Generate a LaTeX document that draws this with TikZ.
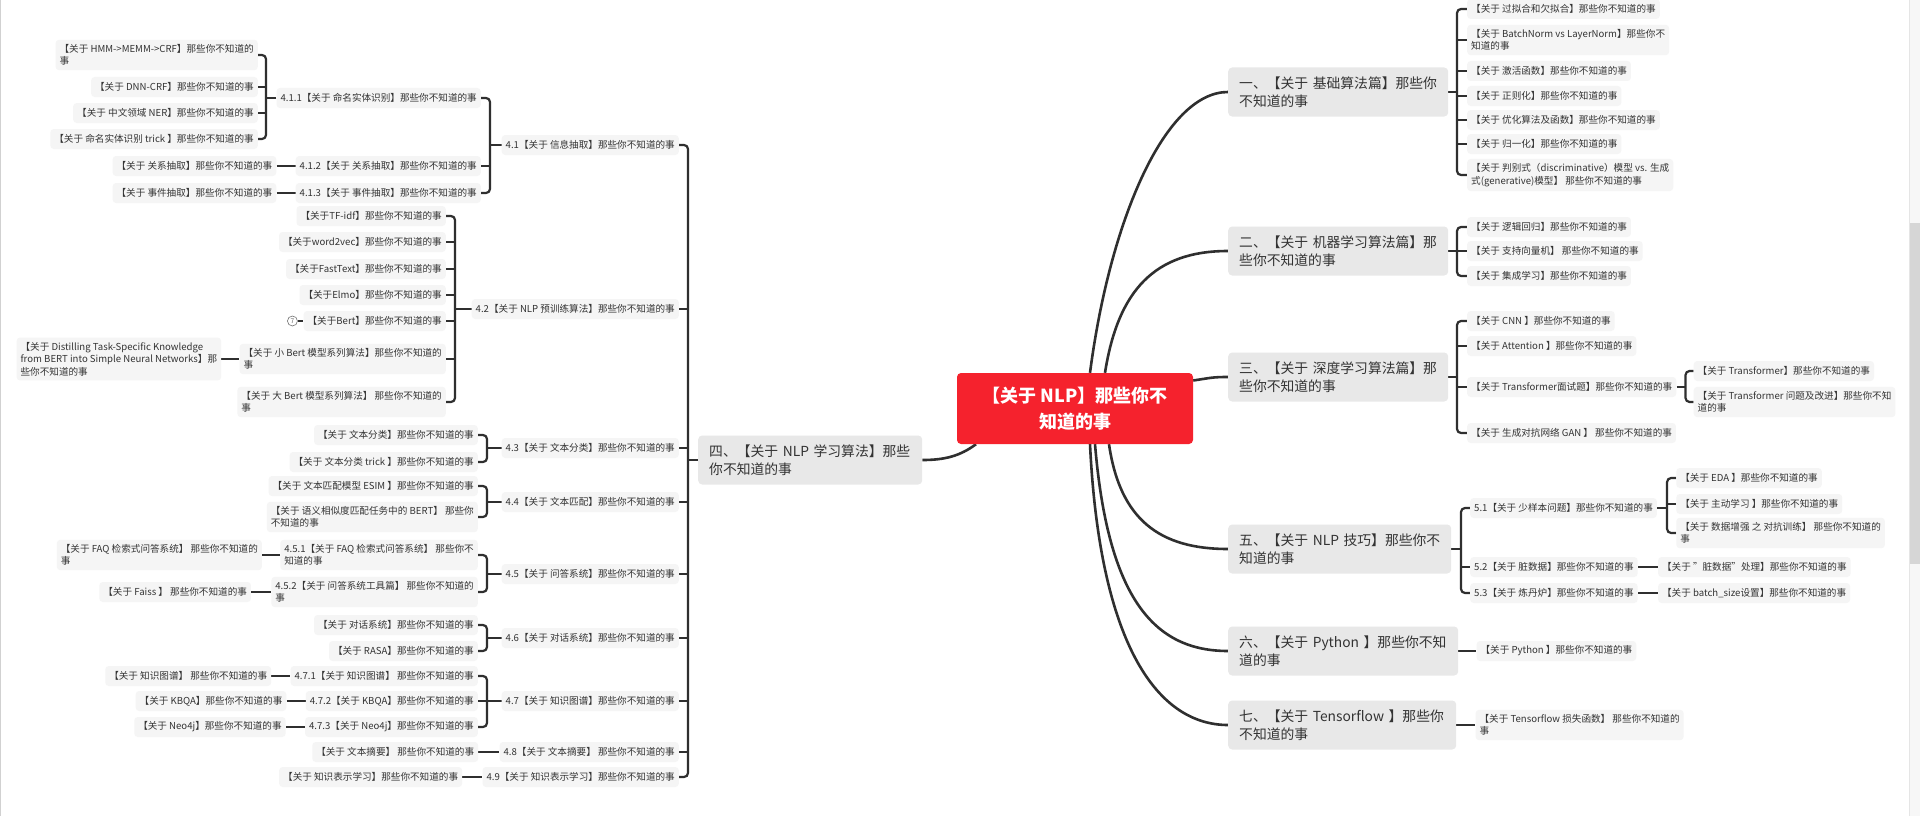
\documentclass[tikz,border=0pt]{standalone}
\usepackage{fontspec}
\setmainfont{Noto Sans CJK SC}
\usetikzlibrary{calc}
\definecolor{rootred}{HTML}{F5222D}
\definecolor{maingray}{HTML}{E8E8E8}
\definecolor{subgray}{HTML}{F5F5F5}
\definecolor{txt}{HTML}{333333}
\definecolor{ln}{HTML}{2F2F2F}
\pgfdeclarelayer{bg}
\pgfdeclarelayer{canvas}
\pgfsetlayers{canvas,bg,main}
\begin{document}
\begin{tikzpicture}[x=1pt,y=-1pt,
 subbox/.style={fill=subgray, rounded corners=3.5pt, text=txt, font=\fontsize{9.6}{12.5}\selectfont, inner xsep=4pt, inner ysep=4.5pt, minimum height=20pt, align=left},
 mainbox/.style={fill=maingray, rounded corners=4pt, text=txt, font=\fontsize{13.8}{18}\selectfont, inner xsep=11pt, inner ysep=6pt, minimum height=49pt, align=left, anchor=west},
 rootbox/.style={fill=rootred, rounded corners=4pt, text=white, font=\bfseries\fontsize{18}{26}\selectfont, align=center, minimum width=236pt, minimum height=71pt, inner sep=4pt},
 br/.style={draw=ln, line width=2.2pt, rounded corners=4pt},
 cv/.style={draw=ln, line width=2.6pt},
 lsub/.style={subbox, anchor=east},
 rsub/.style={subbox, anchor=west}
]
\useasboundingbox (0,0) rectangle (1920,816);
\begin{pgfonlayer}{canvas}
\fill[white] (0,0) rectangle (1920,816);
\draw[black!18, line width=1pt] (0.5,0) -- (0.5,816);
% scrollbar
\fill[black!3] (1909,0) rectangle (1920,816);
\draw[black!10, line width=0.8pt] (1909,0) -- (1909,816);
\fill[black!16] (1909.5,223) rectangle (1920,564);
\end{pgfonlayer}

% root
\node[rootbox] (root) at (1075,408.5) {【关于 NLP】那些你不\\知道的事};

% ---------------- left side ----------------
\node[mainbox, text width=202pt] (n4) at (698,460) {\mbox{四、【关于 NLP 学习算法】那些}\\你不知道的事};

\node[lsub] (c41) at (679,145) {4.1【关于 信息抽取】那些你不知道的事};
\node[lsub] (c42) at (679,309) {4.2【关于 NLP 预训练算法】那些你不知道的事};
\node[lsub] (c43) at (679,448) {4.3【关于 文本分类】那些你不知道的事};
\node[lsub] (c44) at (679,502) {4.4【关于 文本匹配】那些你不知道的事};
\node[lsub] (c45) at (679,574) {4.5【关于 问答系统】那些你不知道的事};
\node[lsub] (c46) at (679,638) {4.6【关于 对话系统】那些你不知道的事};
\node[lsub] (c47) at (679,701) {4.7【关于 知识图谱】那些你不知道的事};
\node[lsub] (c48) at (679,752) {4.8【关于 文本摘要】 那些你不知道的事};
\node[lsub] (c49) at (679,777) {4.9【关于 知识表示学习】那些你不知道的事};

\node[lsub] (c411) at (481,98) {4.1.1【关于 命名实体识别】那些你不知道的事};
\node[lsub] (c412) at (481,166) {4.1.2【关于 关系抽取】那些你不知道的事};
\node[lsub] (c413) at (481,193) {4.1.3【关于 事件抽取】那些你不知道的事};

\node[lsub] (d1) at (258,55) {【关于 HMM->MEMM->CRF】那些你不知道的\\事};
\node[lsub] (d2) at (258,87) {【关于 DNN-CRF】那些你不知道的事};
\node[lsub] (d3) at (258,113) {【关于 中文领域 NER】那些你不知道的事};
\node[lsub] (d4) at (258,139) {【关于 命名实体识别 trick 】那些你不知道的事};

\node[lsub] (e412) at ([xshift=-19pt]c412.west) {【关于 关系抽取】那些你不知道的事};
\node[lsub] (e413) at ([xshift=-19pt]c413.west) {【关于 事件抽取】那些你不知道的事};

\node[lsub] (f1) at (446,216) {【关于TF-idf】那些你不知道的事};
\node[lsub] (f2) at (446,242) {【关于word2vec】那些你不知道的事};
\node[lsub] (f3) at (446,269) {【关于FastText】那些你不知道的事};
\node[lsub] (f4) at (446,295) {【关于Elmo】那些你不知道的事};
\node[lsub] (f5) at (446,321) {【关于Bert】那些你不知道的事};
\node[lsub] (f6) at (446,359) {【关于 小 Bert 模型系列算法】那些你不知道的\\事};
\node[lsub] (f7) at (446,402) {【关于 大 Bert 模型系列算法】 那些你不知道的\\事};
\node[lsub] (g6) at ([xshift=-18pt]f6.west) {【关于 Distilling Task-Specific Knowledge\\from BERT into Simple Neural Networks】那\\些你不知道的事};
\node[circle, draw=black!55, line width=0.6pt, inner sep=0pt, minimum size=10pt, font=\fontsize{6.5}{7}\selectfont, text=black!60] (bc) at ([xshift=-11pt]f5.west) {7};

\node[lsub] (h1) at (478,435) {【关于 文本分类】那些你不知道的事};
\node[lsub] (h2) at (478,462) {【关于 文本分类 trick 】那些你不知道的事};
\node[lsub] (i1) at (478,486) {【关于 文本匹配模型 ESIM 】那些你不知道的事};
\node[lsub] (i2) at (478,517) {【关于 语义相似度匹配任务中的 BERT】 那些你\\不知道的事};
\node[lsub] (j1) at (478,555) {4.5.1【关于 FAQ 检索式问答系统】 那些你不\\知道的事};
\node[lsub] (j2) at (478,592) {4.5.2【关于 问答系统工具篇】 那些你不知道的\\事};
\node[lsub] (k1) at ([xshift=-18pt]j1.west) {【关于 FAQ 检索式问答系统】 那些你不知道的\\事};
\node[lsub] (k2) at ([xshift=-20pt]j2.west) {【关于 Faiss 】 那些你不知道的事};
\node[lsub] (l1) at (478,625) {【关于 对话系统】那些你不知道的事};
\node[lsub] (l2) at (478,651) {【关于 RASA】那些你不知道的事};
\node[lsub] (m1) at (478,676) {4.7.1【关于 知识图谱】 那些你不知道的事};
\node[lsub] (m2) at (478,701) {4.7.2【关于 KBQA】那些你不知道的事};
\node[lsub] (m3) at (478,727) {4.7.3【关于 Neo4j】那些你不知道的事};
\node[lsub] (o1) at ([xshift=-19pt]m1.west) {【关于 知识图谱】 那些你不知道的事};
\node[lsub] (o2) at ([xshift=-19pt]m2.west) {【关于 KBQA】那些你不知道的事};
\node[lsub] (o3) at ([xshift=-19pt]m3.west) {【关于 Neo4j】那些你不知道的事};
\node[lsub] (p8) at ([xshift=-21pt]c48.west) {【关于 文本摘要】 那些你不知道的事};
\node[lsub] (p9) at ([xshift=-20pt]c49.west) {【关于 知识表示学习】那些你不知道的事};

% ---------------- right side ----------------
\node[mainbox, text width=198pt] (r1) at (1228,92) {\mbox{一、【关于 基础算法篇】那些你}\\不知道的事};
\node[rsub] (s11) at (1467,9) {【关于 过拟合和欠拟合】那些你不知道的事};
\node[rsub] (s12) at (1467,40) {【关于 BatchNorm vs LayerNorm】那些你不\\知道的事};
\node[rsub] (s13) at (1467,71) {【关于 激活函数】那些你不知道的事};
\node[rsub] (s14) at (1467,96) {【关于 正则化】那些你不知道的事};
\node[rsub] (s15) at (1467,120) {【关于 优化算法及函数】那些你不知道的事};
\node[rsub] (s16) at (1467,144) {【关于 归一化】那些你不知道的事};
\node[rsub] (s17) at (1467,175) {【关于 判别式（discriminative）模型 vs. 生成\\式(generative)模型】 那些你不知道的事};

\node[mainbox, text width=198pt] (r2) at (1228,251) {\mbox{二、【关于 机器学习算法篇】那}\\些你不知道的事};
\node[rsub] (s21) at (1467,227) {【关于 逻辑回归】那些你不知道的事};
\node[rsub] (s22) at (1467,251) {【关于 支持向量机】 那些你不知道的事};
\node[rsub] (s23) at (1467,276) {【关于 集成学习】那些你不知道的事};

\node[mainbox, text width=198pt] (r3) at (1228,377) {\mbox{三、【关于 深度学习算法篇】那}\\些你不知道的事};
\node[rsub] (s31) at (1467,321) {【关于 CNN 】那些你不知道的事};
\node[rsub] (s32) at (1467,346) {【关于 Attention 】那些你不知道的事};
\node[rsub] (s33) at (1467,387) {【关于 Transformer面试题】那些你不知道的事};
\node[rsub] (s34) at (1467,433) {【关于 生成对抗网络 GAN 】 那些你不知道的事};
\node[rsub] (t1) at ($(s33.east)+(17,-16)$) {【关于 Transformer】那些你不知道的事};
\node[rsub] (t2) at ($(s33.east)+(17,15)$) {【关于 Transformer 问题及改进】那些你不知\\道的事};

\node[mainbox, text width=201pt] (r5) at (1228,549) {\mbox{五、【关于 NLP 技巧】那些你不}\\知道的事};
\node[rsub] (u1) at (1470,508) {5.1【关于 少样本问题】那些你不知道的事};
\node[rsub] (u2) at (1470,567) {5.2【关于 脏数据】那些你不知道的事};
\node[rsub] (u3) at (1470,593) {5.3【关于 炼丹炉】那些你不知道的事};
\node[rsub] (v1) at ($(u1.east)+(19,-30)$) {【关于 EDA 】那些你不知道的事};
\node[rsub] (v2) at ($(u1.east)+(19,-4)$) {【关于 主动学习 】那些你不知道的事};
\node[rsub] (v3) at ($(u1.east)+(19,25)$) {【关于 数据增强 之 对抗训练】 那些你不知道的\\事};
\node[rsub] (w2) at ([xshift=20pt]u2.east) {【关于 "脏数据"处理】那些你不知道的事};
\node[rsub] (w3) at ([xshift=20pt]u3.east) {【关于 batch\_size设置】那些你不知道的事};

\node[mainbox, text width=208pt] (r6) at (1228,651) {\mbox{六、【关于 Python 】那些你不知}\\道的事};
\node[rsub] (x6) at ([xshift=18pt]r6.east) {【关于 Python 】那些你不知道的事};
\node[mainbox, text width=206pt] (r7) at (1228,725) {\mbox{七、【关于 Tensorflow 】那些你}\\不知道的事};
\node[rsub] (x7) at ([xshift=19pt]r7.east) {【关于 Tensorflow 损失函数】 那些你不知道的\\事};

% ---------------- connectors ----------------
\begin{pgfonlayer}{bg}
% root curves
\draw[cv] ([xshift=15pt]root.north) .. controls (1110,220) and (1165,92) .. (r1.west);
\draw[cv] ([xshift=30pt]root.north) .. controls (1118,290) and (1155,251) .. (r2.west);
\draw[cv] ([yshift=28pt]root.east) .. controls (1210,378) and (1212,377) .. (r3.west);
\draw[cv] ([xshift=34pt]root.south) .. controls (1120,520) and (1160,549) .. (r5.west);
\draw[cv] ([xshift=20pt]root.south) .. controls (1108,600) and (1155,651) .. (r6.west);
\draw[cv] ([xshift=15pt]root.south) .. controls (1100,650) and (1160,725) .. (r7.west);
\draw[cv] ([xshift=-99pt]root.south) .. controls (960,456) and (945,460) .. (n4.east);

% left brackets
\coordinate (b4) at (688,0);
\draw[br] (c41.east) -- (c41.east -| b4) -- (c49.east -| b4) -- (c49.east);
\foreach \n in {c42,c43,c44,c45,c46,c47,c48} \draw[br] (\n.east) -- (\n.east -| b4);
\draw[br] (n4.west) -- (n4.west -| b4);

\coordinate (b41) at (490,0);
\draw[br] (c411.east) -- (c411.east -| b41) -- (c413.east -| b41) -- (c413.east);
\draw[br] (c412.east) -- (c412.east -| b41);
\draw[br] (c41.west) -- (c41.west -| b41);

\coordinate (b411) at (266,0);
\draw[br] (d1.east) -- (d1.east -| b411) -- (d4.east -| b411) -- (d4.east);
\foreach \n in {d2,d3} \draw[br] (\n.east) -- (\n.east -| b411);
\draw[br] (c411.west) -- (c411.west -| b411);

\coordinate (b42) at (455,0);
\draw[br] (f1.east) -- (f1.east -| b42) -- (f7.east -| b42) -- (f7.east);
\foreach \n in {f2,f3,f4,f5,f6} \draw[br] (\n.east) -- (\n.east -| b42);
\draw[br] (c42.west) -- (c42.west -| b42);

\coordinate (b43) at (487,0);
\draw[br] (h1.east) -- (h1.east -| b43) -- (h2.east -| b43) -- (h2.east);
\draw[br] (c43.west) -- (c43.west -| b43);
\draw[br] (i1.east) -- (i1.east -| b43) -- (i2.east -| b43) -- (i2.east);
\draw[br] (c44.west) -- (c44.west -| b43);
\draw[br] (j1.east) -- (j1.east -| b43) -- (j2.east -| b43) -- (j2.east);
\draw[br] (c45.west) -- (c45.west -| b43);
\draw[br] (l1.east) -- (l1.east -| b43) -- (l2.east -| b43) -- (l2.east);
\draw[br] (c46.west) -- (c46.west -| b43);
\draw[br] (m1.east) -- (m1.east -| b43) -- (m3.east -| b43) -- (m3.east);
\draw[br] (m2.east) -- (m2.east -| b43);
\draw[br] (c47.west) -- (c47.west -| b43);

% left single links
\draw[br] (e412.east) -- (c412.west);
\draw[br] (e413.east) -- (c413.west);
\draw[br] (g6.east) -- (f6.west);
\draw[br] (k1.east) -- (j1.west);
\draw[br] (k2.east) -- (j2.west);
\draw[br] (o1.east) -- (m1.west);
\draw[br] (o2.east) -- (m2.west);
\draw[br] (o3.east) -- (m3.west);
\draw[br] (p8.east) -- (c48.west);
\draw[br] (p9.east) -- (c49.west);
\draw[draw=ln, line width=1.2pt] (bc.east) -- (f5.west);

% right brackets
\coordinate (b1) at (1457,0);
\draw[br] (s11.west) -- (s11.west -| b1) -- (s17.west -| b1) -- (s17.west);
\foreach \n in {s12,s13,s14,s15,s16} \draw[br] (\n.west) -- (\n.west -| b1);
\draw[br] (r1.east) -- (r1.east -| b1);

\draw[br] (s21.west) -- (s21.west -| b1) -- (s23.west -| b1) -- (s23.west);
\draw[br] (s22.west) -- (s22.west -| b1);
\draw[br] (r2.east) -- (r2.east -| b1);

\draw[br] (s31.west) -- (s31.west -| b1) -- (s34.west -| b1) -- (s34.west);
\foreach \n in {s32,s33} \draw[br] (\n.west) -- (\n.west -| b1);
\draw[br] (r3.east) -- (r3.east -| b1);

\coordinate (b33) at ($(s33.east)+(9,0)$);
\draw[br] (t1.west) -- (t1.west -| b33) -- (t2.west -| b33) -- (t2.west);
\draw[br] (s33.east) -- (b33);

\coordinate (b5) at (1461,0);
\draw[br] (u1.west) -- (u1.west -| b5) -- (u3.west -| b5) -- (u3.west);
\draw[br] (u2.west) -- (u2.west -| b5);
\draw[br] (r5.east) -- (r5.east -| b5);

\coordinate (b51) at ($(u1.east)+(10,0)$);
\draw[br] (v1.west) -- (v1.west -| b51) -- (v3.west -| b51) -- (v3.west);
\draw[br] (v2.west) -- (v2.west -| b51);
\draw[br] (u1.east) -- (b51);

\draw[br] (u2.east) -- (w2.west);
\draw[br] (u3.east) -- (w3.west);
\draw[br] (r6.east) -- (x6.west);
\draw[br] (r7.east) -- (x7.west);
\end{pgfonlayer}
\end{tikzpicture}
\end{document}
